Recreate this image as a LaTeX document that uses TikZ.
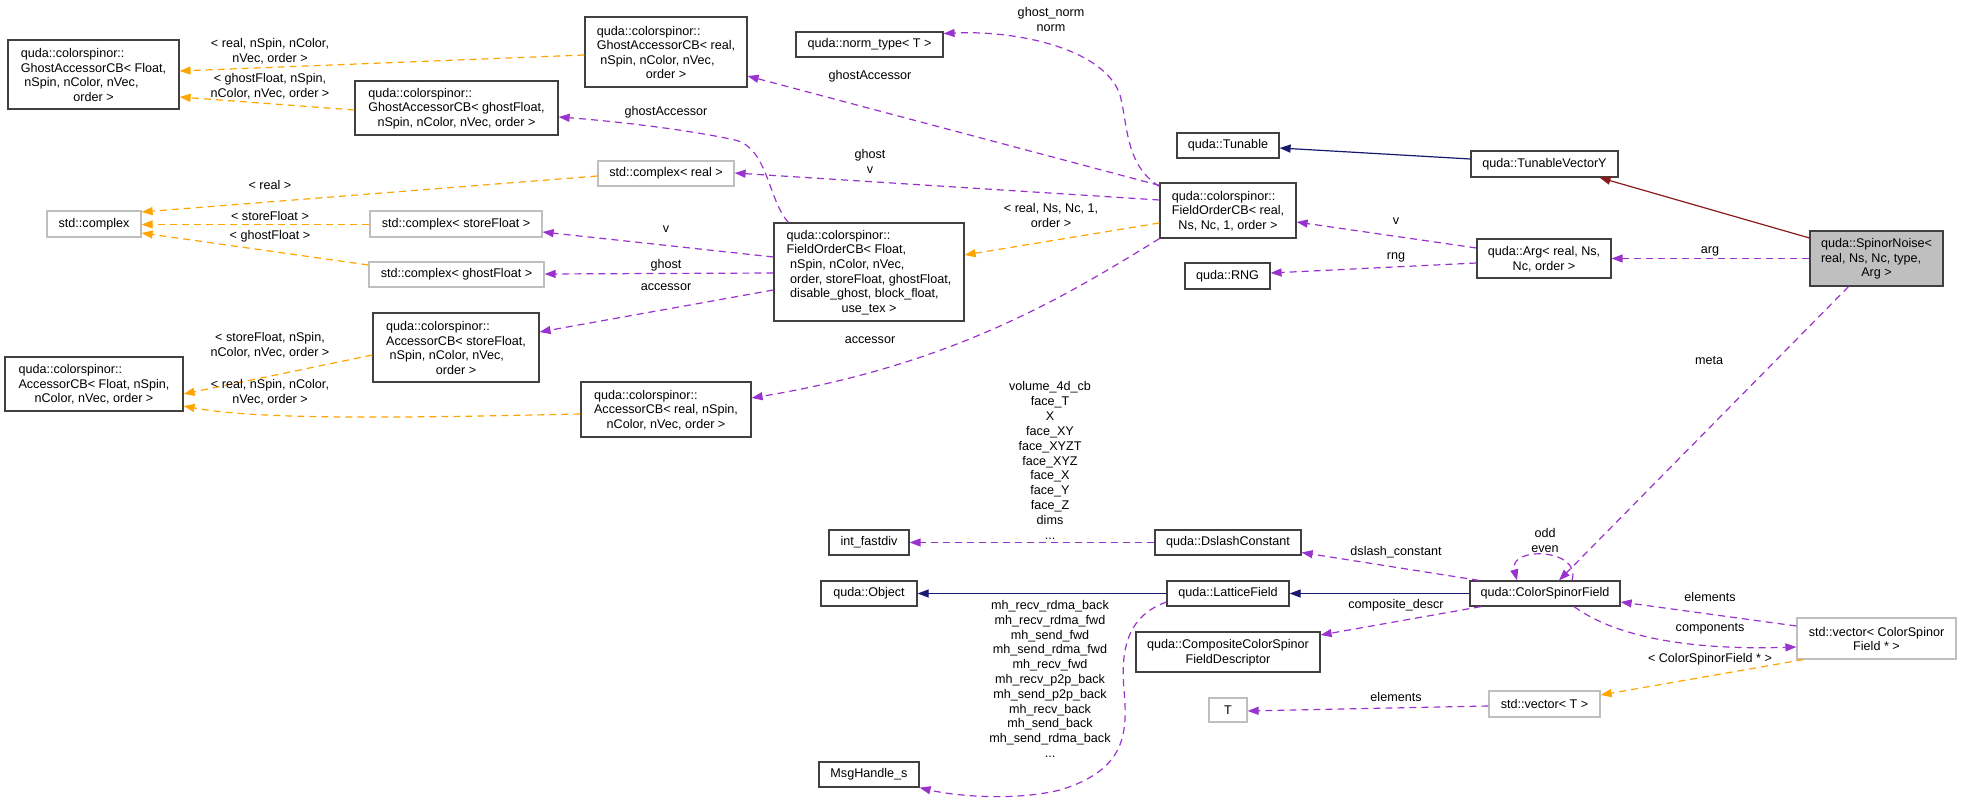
\documentclass[tikz,border=0pt]{standalone}
\usepackage{fontspec}
\setmainfont{Liberation Sans}
\usetikzlibrary{arrows.meta}
\definecolor{pur}{HTML}{9A32CD}
\definecolor{org}{HTML}{FFA500}
\definecolor{mblue}{HTML}{191970}
\definecolor{fred}{HTML}{8B1A1A}
\definecolor{gbord}{HTML}{BFBFBF}
\definecolor{bbord}{HTML}{404040}
\newcommand{\dxl}[1]{\begin{tabular}[b]{@{}l@{}}#1\end{tabular}}
\newcommand{\ind}{\hspace*{3.5pt}}
\begin{document}
\begin{tikzpicture}[x=1pt,y=-1pt,
  every node/.style={font=\fontsize{12.6}{14.6}\selectfont},
  box/.style={draw=bbord,line width=1.2pt,fill=white,inner sep=0pt,align=center},
  gbox/.style={draw=gbord,line width=1.2pt,fill=white,inner sep=0pt,align=center},
  lbl/.style={inner sep=0pt,align=center},
  tip/.style={-{Triangle[length=11pt,width=8pt]}},
  pe/.style={tip,draw=pur,line width=1.2pt,dash pattern=on 7pt off 5pt},
  oe/.style={tip,draw=org,line width=1.2pt,dash pattern=on 7pt off 5pt},
  be/.style={tip,draw=mblue,line width=1.2pt},
  re/.style={tip,draw=fred,line width=1.2pt}]
\useasboundingbox (0,0) rectangle (1961,802);
% nodes
\node[box,minimum width=171pt,minimum height=69pt] (GAF) at (93.5,74.5) {\dxl{quda::colorspinor::\\GhostAccessorCB< Float,\\\ind nSpin, nColor, nVec,}\\order >};
\node[box,minimum width=203pt,minimum height=54pt] (GAg) at (456.5,108) {\dxl{quda::colorspinor::\\GhostAccessorCB< ghostFloat,}\\nSpin, nColor, nVec, order >};
\node[box,minimum width=162pt,minimum height=70pt] (GAr) at (666,52) {\dxl{quda::colorspinor::\\GhostAccessorCB< real,\\\ind nSpin, nColor, nVec,}\\order >};
\node[gbox,minimum width=94pt,minimum height=26pt] (cplx) at (94,224) {std::complex};
\node[gbox,minimum width=136pt,minimum height=25pt] (cr) at (666,173.5) {std::complex< real >};
\node[gbox,minimum width=172pt,minimum height=26pt] (cs) at (456,224) {std::complex< storeFloat >};
\node[gbox,minimum width=175pt,minimum height=25pt] (cg) at (456.5,274.5) {std::complex< ghostFloat >};
\node[box,minimum width=166pt,minimum height=69pt] (ACs) at (456,347.5) {\dxl{quda::colorspinor::\\AccessorCB< storeFloat,\\\ind nSpin, nColor, nVec,}\\order >};
\node[box,minimum width=178pt,minimum height=54pt] (ACF) at (94,384) {\dxl{quda::colorspinor::\\AccessorCB< Float, nSpin,}\\nColor, nVec, order >};
\node[box,minimum width=170pt,minimum height=55pt] (ACr) at (666,409.5) {\dxl{quda::colorspinor::\\AccessorCB< real, nSpin,}\\nColor, nVec, order >};
\node[box,minimum width=190pt,minimum height=98pt] (FOF) at (869,272) {\dxl{quda::colorspinor::\\FieldOrderCB< Float,\\\ind nSpin, nColor, nVec,\\\ind order, storeFloat, ghostFloat,\\\ind disable\_ghost, block\_float,}\\use\_tex >};
\node[box,minimum width=147pt,minimum height=25pt] (norm) at (869.5,44.5) {quda::norm\_type< T >};
\node[box,minimum width=136pt,minimum height=55pt] (FOr) at (1228,210.5) {\dxl{quda::colorspinor::\\FieldOrderCB< real,}\\Ns, Nc, 1, order >};
\node[box,minimum width=102pt,minimum height=25pt] (Tun) at (1228,145.5) {quda::Tunable};
\node[box,minimum width=147pt,minimum height=26pt] (TVY) at (1544.5,164) {quda::TunableVectorY};
\node[box,minimum width=85pt,minimum height=26pt] (RNG) at (1227.5,276) {quda::RNG};
\node[box,minimum width=134pt,minimum height=39pt] (Arg) at (1544,258.5) {\dxl{quda::Arg< real, Ns,}\\Nc, order >};
\node[box,fill=gbord,minimum width=133pt,minimum height=55pt] (SN) at (1876.5,258.5) {\dxl{quda::SpinorNoise<\\real, Ns, Nc, type,}\\Arg >};
\node[box,minimum width=80pt,minimum height=25pt] (int) at (869,542.5) {int\_fastdiv};
\node[box,minimum width=146pt,minimum height=25pt] (DC) at (1228,542.5) {quda::DslashConstant};
\node[box,minimum width=96pt,minimum height=25pt] (Obj) at (869,593.5) {quda::Object};
\node[box,minimum width=122pt,minimum height=25pt] (LF) at (1228,593.5) {quda::LatticeField};
\node[box,minimum width=150pt,minimum height=25pt] (CSF) at (1545,593.5) {quda::ColorSpinorField};
\node[box,minimum width=184pt,minimum height=40pt] (CCSFD) at (1228,652) {\dxl{quda::CompositeColorSpinor}\\FieldDescriptor};
\node[gbox,minimum width=38pt,minimum height=24pt] (T) at (1228,710) {T};
\node[gbox,minimum width=111pt,minimum height=26pt] (vT) at (1544.5,704) {std::vector< T >};
\node[gbox,minimum width=159pt,minimum height=41pt] (vCSF) at (1876.5,638.5) {\dxl{std::vector< ColorSpinor}\\Field * >};
\node[box,minimum width=100pt,minimum height=25pt] (Msg) at (869,774.5) {MsgHandle\_s};
% template edges (orange)
\draw[oe] ([yshift=-3pt]GAr.west) -- ([yshift=3.5pt]GAF.east);
\node[lbl] (l1) at (270,51.5) {< real, nSpin, nColor,\\nVec, order >};
\draw[oe] ([yshift=-2pt]GAg.west) -- ([yshift=-22.5pt]GAF.east);
\node[lbl] (l2) at (270,86) {< ghostFloat, nSpin,\\nColor, nVec, order >};
\draw[oe] ([yshift=-2.5pt]cr.west) -- ([yshift=12pt]cplx.east);
\node[lbl] (l3) at (270,185) {< real >};
\draw[oe] ([yshift=-0.5pt]cs.west) -- ([yshift=-0.5pt]cplx.east);
\node[lbl] (l4) at (270,216) {< storeFloat >};
\draw[oe] ([yshift=9.5pt]cg.west) -- ([yshift=-9pt]cplx.east);
\node[lbl] (l5) at (270,236) {< ghostFloat >};
\draw[oe] ([yshift=-7.5pt]ACs.west) -- ([yshift=-10pt]ACF.east);
\node[lbl] (l6) at (270,345.5) {< storeFloat, nSpin,\\nColor, nVec, order >};
\draw[oe] ([yshift=-4.5pt]ACr.west) .. controls (400,418) and (260,420) .. ([yshift=-22pt]ACF.east);
\node[lbl] (l7) at (270,392.5) {< real, nSpin, nColor,\\nVec, order >};
\draw[oe] ([yshift=-12.5pt]FOr.west) -- ([yshift=17pt]FOF.east);
\node[lbl] (l8) at (1051,215.5) {< real, Ns, Nc, 1,\\order >};
\draw[oe] ([xshift=7pt]vCSF.south west) -- ([yshift=9pt]vT.east);
\node[lbl] (l9) at (1710,659) {< ColorSpinorField * >};
% member edges (purple)
\draw[pe] ([yshift=-3pt]FOr.north west) -- ([yshift=-24pt]GAr.east);
\node[lbl] (m1) at (870,76) {ghostAccessor};
\draw[pe] ([yshift=-4pt]FOr.north west) .. controls (1125,165) and (1128,125) .. (1120,95) .. controls (1105,50) and (1020,30) .. ([yshift=11pt]norm.east);
\node[lbl] (m2) at (1051,19.5) {ghost\_norm\\norm};
\draw[pe] ([yshift=10.5pt]FOr.west) -- ([yshift=0.5pt]cr.east);
\node[lbl] (m3) at (870,161.5) {ghost\\v};
\draw[pe] (FOr.south west) .. controls (1060,300) and (950,365) .. ([yshift=11.5pt]ACr.east);
\node[lbl] (m4) at (870,340) {accessor};
\draw[pe] ([xshift=15pt]FOF.north west) .. controls (768,200) and (768,148) .. (735,140) .. controls (680,128) and (600,120) .. ([yshift=-9pt]GAg.east);
\node[lbl] (m5) at (666,112) {ghostAccessor};
\draw[pe] ([yshift=15pt]FOF.west) -- ([yshift=-8pt]cs.east);
\node[lbl] (m6) at (666,229) {v};
\draw[pe] ([yshift=-1pt]FOF.west) -- ([yshift=0.5pt]cg.east);
\node[lbl] (m7) at (666,265) {ghost};
\draw[pe] ([yshift=-18pt]FOF.west) -- ([yshift=15.5pt]ACs.east);
\node[lbl] (m8) at (666,287) {accessor};
\draw[pe] ([yshift=10.5pt]Arg.west) -- ([yshift=-11.5pt]FOr.east);
\node[lbl] (m9) at (1396,221) {v};
\draw[pe] ([yshift=-4.5pt]Arg.west) -- ([yshift=3pt]RNG.east);
\node[lbl] (m10) at (1396,257) {rng};
\draw[pe] (SN.west) -- (Arg.east);
\node[lbl] (m11) at (1710,251) {arg};
\draw[pe] ([xshift=-28pt]SN.south) -- ([xshift=14pt]CSF.north);
\node[lbl] (m12) at (1709,360) {meta};
\draw[pe] ([xshift=27pt]CSF.north) .. controls (1582,548) and (1508,546) .. ([xshift=-28pt]CSF.north);
\node[lbl] (m13) at (1545,540.5) {odd\\even};
\draw[pe] ([xshift=-66pt]CSF.north) -- ([yshift=-10pt]DC.east);
\node[lbl] (m14) at (1396,552) {dslash\_constant};
\draw[pe] ([xshift=-64pt]CSF.south) -- ([yshift=17pt]CCSFD.east);
\node[lbl] (m15) at (1396,605) {composite\_descr};
\draw[pe] ([xshift=29pt]CSF.south) .. controls (1620,640) and (1700,650) .. ([yshift=-8.5pt]vCSF.west);
\node[lbl] (m16) at (1710,629) {components};
\draw[pe] ([yshift=12.5pt]vCSF.west) -- ([yshift=-8.5pt]CSF.east);
\node[lbl] (m17) at (1710,597) {elements};
\draw[pe] ([yshift=-2pt]vT.west) -- ([yshift=-1pt]T.east);
\node[lbl] (m18) at (1396,697) {elements};
\draw[pe] (DC.west) -- (int.east);
\node[lbl,font=\fontsize{12.6}{14.9}\selectfont] (m19) at (1050,460.5) {volume\_4d\_cb\\face\_T\\X\\face\_XY\\face\_XYZT\\face\_XYZ\\face\_X\\face\_Y\\face\_Z\\dims\\...};
\draw[pe] ([yshift=-8.5pt]LF.west) .. controls (1130,615) and (1120,645) .. (1124,690) .. controls (1128,735) and (1125,770) .. (1060,790) .. controls (1010,802) and (950,795) .. (Msg.south east);
\node[lbl,font=\fontsize{12.6}{14.8}\selectfont] (m20) at (1050,679) {mh\_recv\_rdma\_back\\mh\_recv\_rdma\_fwd\\mh\_send\_fwd\\mh\_send\_rdma\_fwd\\mh\_recv\_fwd\\mh\_recv\_p2p\_back\\mh\_send\_p2p\_back\\mh\_recv\_back\\mh\_send\_back\\mh\_send\_rdma\_back\\...};
% inheritance
\draw[be] ([yshift=5pt]TVY.west) -- ([yshift=-2.5pt]Tun.east);
\draw[be] (LF.west) -- (Obj.east);
\draw[be] (CSF.west) -- (LF.east);
\draw[re] ([yshift=20.5pt]SN.west) -- ([xshift=55pt]TVY.south);
\end{tikzpicture}
\end{document}
